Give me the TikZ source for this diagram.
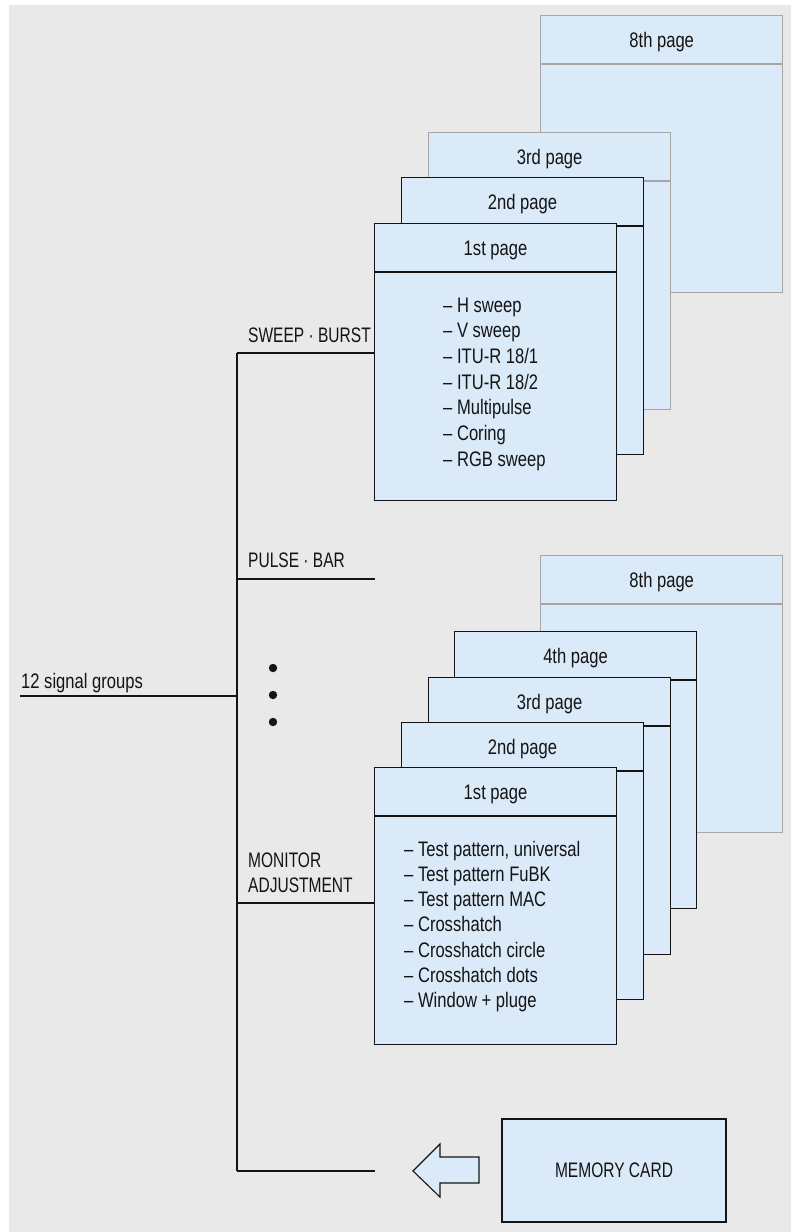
\documentclass[tikz,border=0pt]{standalone}
\usepackage{fontspec}
\setmainfont{Liberation Sans}[FakeStretch=0.79]
\newfontfamily\capsfont{Liberation Sans}[FakeStretch=0.74]
\definecolor{bg}{HTML}{E9E9E9}
\definecolor{boxfill}{HTML}{DAEAF8}
\definecolor{graybd}{HTML}{A6A6A6}
\definecolor{ink}{HTML}{141414}
\newcommand\pg[5]{% name, x, y, label, style
  \node[#5, anchor=north west, minimum width=242pt, minimum height=277pt, inner sep=0pt] (#1) at (#2,#3) {};
  \draw[#5, fill=none] ([yshift=-49pt]#1.north west) -- ([yshift=-49pt]#1.north east);
  \node[text=ink, inner sep=0pt] (#1-t) at ([yshift=-27pt]#1.north) {#4};
}
\begin{document}
\begin{tikzpicture}[x=1pt,y=-1pt, font=\fontsize{21}{25}\selectfont,
  pagefront/.style={draw=ink, line width=1.1pt, fill=boxfill},
  pageback/.style={draw=graybd, line width=1.4pt, fill=boxfill},
  wire/.style={draw=ink, line width=1.1pt},
  lbl/.style={anchor=base west, inner sep=0pt, text=ink},
  caps/.style={font=\fontsize{21}{25}\capsfont}]
\useasboundingbox (0,0) rectangle (791,1232);
\fill[white] (0,0) rectangle (791,1232);
\fill[bg] (9,5) rectangle (791,1232);

% upper stack
\pg{ua8}{540}{15}{8th page}{pageback}
\pg{ua3}{428}{132}{3rd page}{pageback}
\pg{ua2}{401}{177}{2nd page}{pagefront}
\pg{ua1}{374}{223}{1st page}{pagefront}
\foreach \t [count=\i from 0] in {H sweep, V sweep, ITU-R 18/1, ITU-R 18/2, Multipulse, Coring, RGB sweep}
  \node[lbl] (ul\i) at (443,312+25.7*\i) {– \t};

% lower stack
\pg{lb8}{540}{555}{8th page}{pageback}
\pg{lb4}{454}{631}{4th page}{pagefront}
\pg{lb3}{428}{677}{3rd page}{pagefront}
\pg{lb2}{401}{722}{2nd page}{pagefront}
\pg{lb1}{374}{767}{1st page}{pagefront}
\foreach \t [count=\i from 0] in {Test pattern{,} universal, Test pattern FuBK, Test pattern MAC, Crosshatch, Crosshatch circle, Crosshatch dots, Window + pluge}
  \node[lbl] (ll\i) at (404,856+25.3*\i) {– \t};

% memory card
\node[pagefront, caps, minimum width=224pt, minimum height=103pt, inner sep=0pt, text=ink] (mem) at (614,1170.5) {MEMORY CARD};
\draw[draw=ink, line width=1.1pt, fill=boxfill, line join=miter]
  (413,1171) -- (440,1144) -- (440,1157) -- (479,1157) -- (479,1183) -- (440,1183) -- (440,1197) -- cycle;

% bus
\coordinate (btop) at (237,353);
\coordinate (bpulse) at (237,579);
\coordinate (bin) at (237,696);
\coordinate (bmon) at (237,903);
\coordinate (bbot) at (237,1171);
\coordinate (inend) at (20,696);
\coordinate (pulseend) at (375,579);
\coordinate (botend) at (375,1171);
\draw[wire] (btop) -- (bbot);
\draw[wire] (btop) -- (btop -| ua1.west);
\draw[wire] (bpulse) -- (pulseend);
\draw[wire] (inend) -- (bin);
\draw[wire] (bmon) -- (bmon -| lb1.west);
\draw[wire] (bbot) -- (botend);

\node[lbl, caps] (lsweep) at (248,342) {SWEEP · BURST};
\node[lbl, caps] (lpulse) at (248,567) {PULSE · BAR};
\node[lbl] (lin) at (21,688) {12 signal groups};
\node[lbl, caps] (lmon1) at (248,867) {MONITOR};
\node[lbl, caps] (lmon2) at (248,892) {ADJUSTMENT};

\fill[ink] (273,668) circle (4.2) (273,695) circle (4.2) (273,722) circle (4.2);
\end{tikzpicture}
\end{document}
